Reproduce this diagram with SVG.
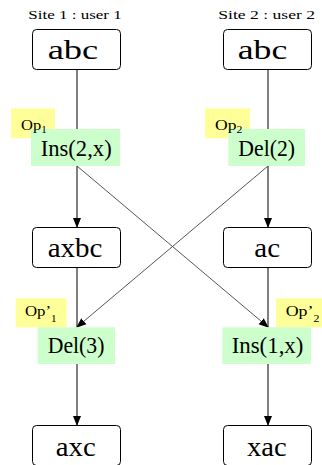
<svg xmlns="http://www.w3.org/2000/svg" width="322" height="465" viewBox="0 0 322 465">
<style>
text{font-family:"Liberation Serif","Times New Roman","DejaVu Serif",serif;fill:#000}
.st{fill:#fff;stroke:#000;stroke-width:1}
.big{font-size:28px}
.op{font-size:24px}
.tag{font-size:15px}
.sub{font-size:10px}
.hdr{font-size:13.5px}
.y{fill:#ffff99}
.g{fill:#ccffcc}
.v{stroke:#000;stroke-width:1;fill:none}
.x{stroke:#555;stroke-width:1;fill:none}
</style>
<defs>
<marker id="ah" markerWidth="10" markerHeight="10" refX="9" refY="5" orient="auto" markerUnits="userSpaceOnUse">
<path d="M0,1 L10,5 L0,9 Z" fill="#000"/>
</marker>
</defs>
<text class="hdr" x="28.3" y="19.3" textLength="93.4" lengthAdjust="spacingAndGlyphs">Site 1 : user 1</text>
<text class="hdr" x="218.3" y="19.3" textLength="96.7" lengthAdjust="spacingAndGlyphs">Site 2 : user 2</text>
<g id="connectors">
<line class="v" x1="77" y1="69" x2="77" y2="129"/>
<line class="v" x1="268" y1="69" x2="268" y2="129"/>
<line class="v" x1="77" y1="166" x2="77" y2="227" marker-end="url(#ah)"/>
<line class="v" x1="268" y1="166" x2="268" y2="227" marker-end="url(#ah)"/>
<line class="x" x1="77" y1="166" x2="268" y2="327" marker-end="url(#ah)"/>
<line class="x" x1="268" y1="166" x2="77" y2="327" marker-end="url(#ah)"/>
<line class="v" x1="77" y1="267" x2="77" y2="327"/>
<line class="v" x1="268" y1="267" x2="268" y2="327"/>
<line class="v" x1="77" y1="364" x2="77" y2="425" marker-end="url(#ah)"/>
<line class="v" x1="268" y1="364" x2="268" y2="425" marker-end="url(#ah)"/>
</g>
<g id="s1_abc"><rect class="st" x="32.5" y="29.5" width="88" height="40" rx="4"/><text class="big" x="47.7" y="59.3" textLength="50.6" lengthAdjust="spacingAndGlyphs">abc</text></g>
<g id="s2_abc"><rect class="st" x="223.5" y="29.5" width="88" height="40" rx="4"/><text class="big" x="237.7" y="59.3" textLength="49.6" lengthAdjust="spacingAndGlyphs">abc</text></g>
<g id="op1"><rect class="y" x="11" y="108.3" width="44" height="30"/>
<rect class="g" x="31" y="129" width="89" height="37"/><text class="op" x="40.7" y="155.7" textLength="71" lengthAdjust="spacingAndGlyphs">Ins(2,x)</text>
<text class="tag" x="21" y="130" textLength="25.7" lengthAdjust="spacingAndGlyphs">Op<tspan class="sub" dy="2.5">1</tspan></text></g>
<g id="op2"><rect class="y" x="205" y="108.3" width="45" height="30"/>
<rect class="g" x="228.3" y="129" width="76.7" height="37"/><text class="op" x="238.3" y="155.7" textLength="56.7" lengthAdjust="spacingAndGlyphs">Del(2)</text>
<text class="tag" x="215" y="130" textLength="27.3" lengthAdjust="spacingAndGlyphs">Op<tspan class="sub" dy="2.5">2</tspan></text></g>
<g id="s1_axbc"><rect class="st" x="32.5" y="227.5" width="88" height="40" rx="4"/><text class="big" x="47.7" y="257.3" textLength="54.7" lengthAdjust="spacingAndGlyphs">axbc</text></g>
<g id="s2_ac"><rect class="st" x="223.5" y="227.5" width="88" height="40" rx="4"/><text class="big" x="254.3" y="257.3" textLength="25.7" lengthAdjust="spacingAndGlyphs">ac</text></g>
<g id="op1p"><rect class="y" x="15.7" y="298.3" width="51" height="29"/><text class="tag" x="25" y="316" textLength="31.7" lengthAdjust="spacingAndGlyphs">Op’<tspan class="sub" dy="6">1</tspan></text>
<rect class="g" x="37.7" y="327.3" width="77.3" height="36.7"/><text class="op" x="47.7" y="353.3" textLength="56.7" lengthAdjust="spacingAndGlyphs">Del(3)</text></g>
<g id="op2p"><rect class="y" x="276" y="298.3" width="46" height="29"/><text class="tag" x="285.7" y="316" textLength="33.7" lengthAdjust="spacingAndGlyphs">Op’<tspan class="sub" dy="6">2</tspan></text>
<rect class="g" x="222.3" y="327.3" width="88.7" height="36.7"/><text class="op" x="231.7" y="353.3" textLength="71.7" lengthAdjust="spacingAndGlyphs">Ins(1,x)</text></g>
<g id="s1_axc"><rect class="st" x="32.5" y="425.5" width="88" height="40" rx="4"/><text class="big" x="55.7" y="455.7" textLength="40" lengthAdjust="spacingAndGlyphs">axc</text></g>
<g id="s2_xac"><rect class="st" x="223.5" y="425.5" width="88" height="40" rx="4"/><text class="big" x="247" y="455.7" textLength="39.7" lengthAdjust="spacingAndGlyphs">xac</text></g>
</svg>
